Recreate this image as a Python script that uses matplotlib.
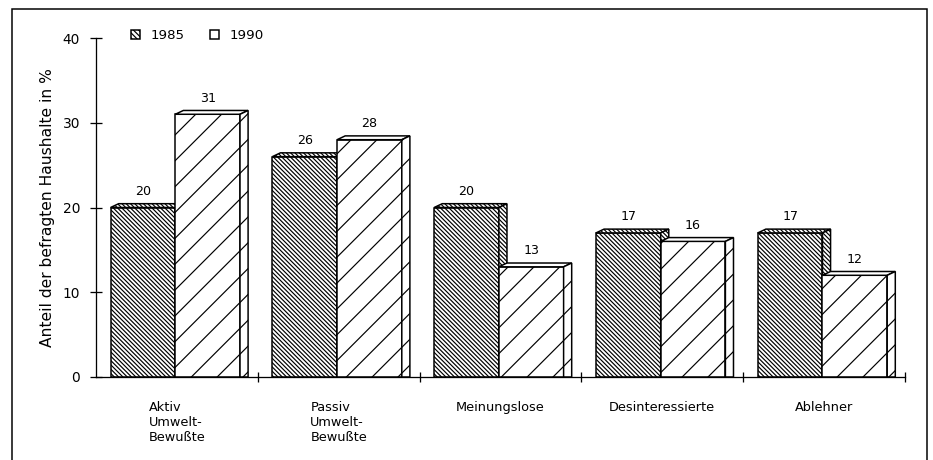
import numpy as np
import matplotlib as mpl
mpl.use("Agg")
import matplotlib.pyplot as plt
from matplotlib.patches import Polygon, Rectangle, Patch

# data
categories = ['Aktiv\nUmwelt-\nBewußte', 'Passiv\nUmwelt-\nBewußte', 'Meinungslose',
              'Desinteressierte', 'Ablehner']
years = ['1985', '1990']
v1985 = [20, 26, 20, 17, 17]
v1990 = [31, 28, 13, 16, 12]
yticks = [0, 10, 20, 30, 40]
ylabel = 'Anteil der befragten Haushalte in %'

my_dpi = 155
plt.rcParams['font.family'] = 'DejaVu Sans'
plt.rcParams['hatch.linewidth'] = 0.55

fig = plt.figure(figsize=(933 / my_dpi, 460 / my_dpi), dpi=my_dpi)
ax = fig.add_axes([96 / 933, 1 - 377 / 460, (905 - 96) / 933, (377 - 38) / 460])

dense = '\\' * 12
sparse = '//'
lw = 0.7
W = 0.4      # bar width in group units
OFF = 0.09   # gap from group start
DX, DY = 0.05, 0.45   # 3d depth

x = np.arange(len(categories))


def bar3d(x0, h, hatch, topfill):
    x1 = x0 + W
    ax.add_patch(Rectangle((x0, 0), W, h, facecolor='white', edgecolor='black',
                           hatch=hatch, lw=lw, zorder=2))
    ax.add_patch(Polygon([(x0, h), (x0 + DX, h + DY), (x1 + DX, h + DY), (x1, h)],
                         closed=True, facecolor='white', edgecolor='black',
                         hatch=topfill, lw=lw, zorder=2))
    ax.add_patch(Polygon([(x1, 0), (x1, h), (x1 + DX, h + DY), (x1 + DX, 0)],
                         closed=True, facecolor='white', edgecolor='black',
                         hatch=hatch, lw=lw, zorder=2))


for i in range(len(categories)):
    bar3d(x[i] + OFF, v1985[i], dense, dense)
    bar3d(x[i] + OFF + W, v1990[i], sparse, None)

for i in range(len(categories)):
    for xs, v in ((x[i] + OFF + W / 2, v1985[i]), (x[i] + OFF + 1.5 * W, v1990[i])):
        ax.annotate(str(v), (xs, v), xytext=(0, 4.5), textcoords='offset points',
                    ha='center', va='bottom', fontsize=5.9, zorder=5)

ax.set_xlim(0, 5)
ax.set_ylim(0, 40)
ax.set_yticks(yticks)
ax.set_yticklabels([str(t) for t in yticks], fontsize=6.4)
ax.set_xticks(x + 1)
ax.set_xticklabels([])
ax.set_xticks(x + 0.5, minor=True)
ax.set_xticklabels(categories, minor=True, fontsize=6.0, ma='left', va='top')

for s in ['top', 'right']:
    ax.spines[s].set_visible(False)
ax.spines['left'].set_linewidth(0.6)
ax.spines['bottom'].set_linewidth(0.6)

ax.tick_params(axis='y', which='major', direction='inout', length=5.6, width=0.6, pad=4.6)
ax.tick_params(axis='x', which='major', direction='inout', length=4.5, width=0.6)
ax.tick_params(axis='x', which='minor', length=0, pad=11.0)

ax.set_ylabel(ylabel, fontsize=7.2, labelpad=3.5)

# legend
handles = [Patch(facecolor='white', edgecolor='black', hatch='\\' * 10, lw=lw),
           Patch(facecolor='white', edgecolor='black', lw=lw)]
fig.legend(handles, years, loc='upper left', bbox_to_anchor=(131 / 933, 1 - 29 / 460),
           ncol=2, frameon=False, fontsize=6.2, handlelength=0.7, handleheight=0.7,
           handletextpad=0.75, columnspacing=1.9, borderpad=0, borderaxespad=0)

# outer frame
fig.patches.append(Rectangle((12 / 933, -0.05), (927 - 12) / 933, 1.05 - 9 / 460,
                             transform=fig.transFigure, fill=False,
                             edgecolor='black', lw=0.7))

fig.savefig('out.png', dpi=my_dpi)
